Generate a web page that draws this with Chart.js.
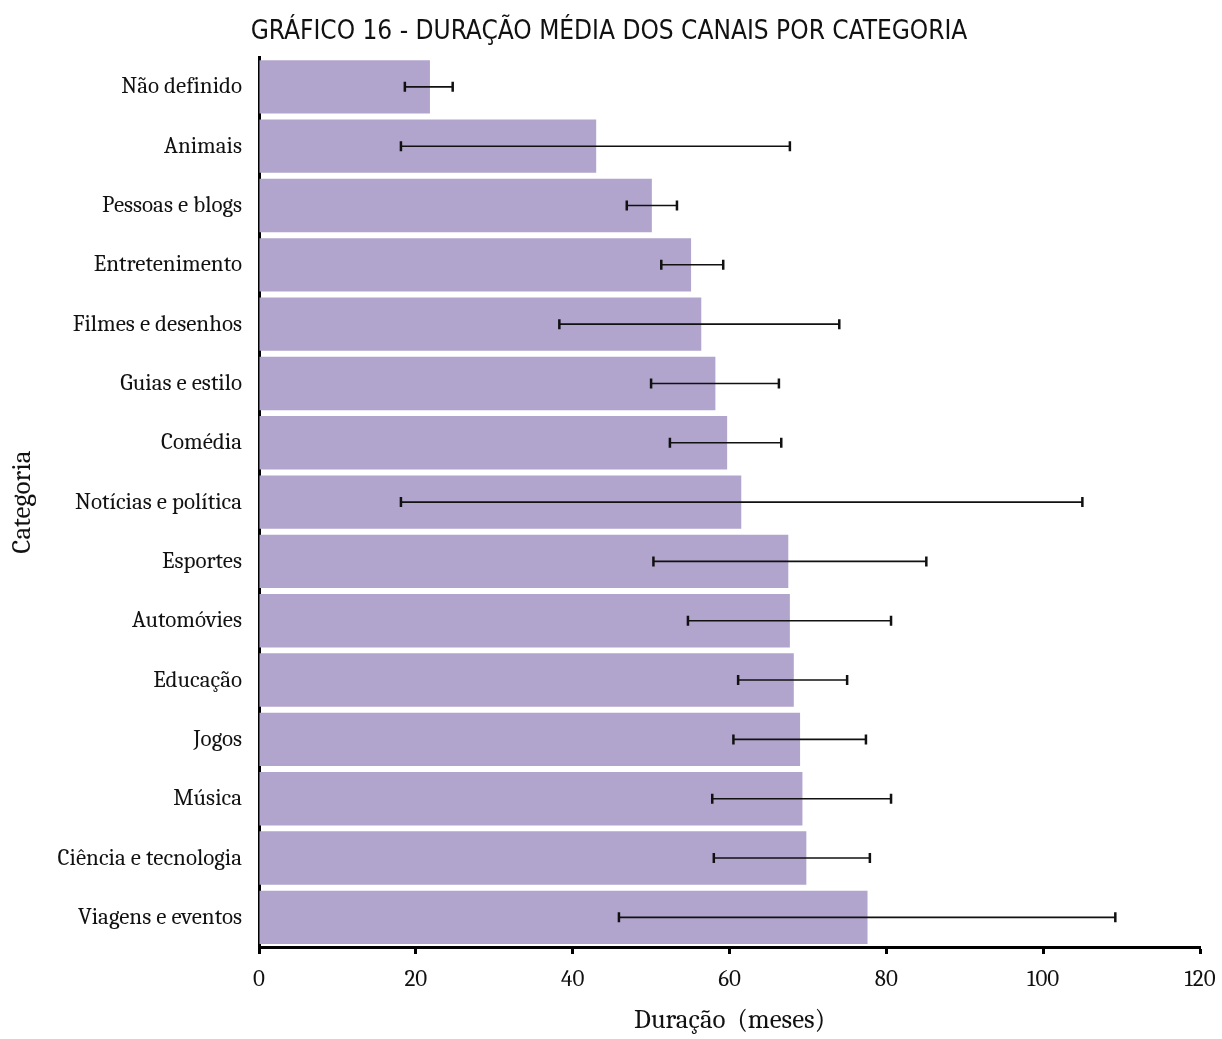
<!DOCTYPE html>
<html>
<head>
<meta charset="utf-8">
<title>Duração média dos canais por categoria</title>
<script src="https://cdn.jsdelivr.net/npm/chart.js@4.4.0/dist/chart.umd.min.js"></script>
<style>
  html, body { margin: 0; padding: 0; background: #fff; }
  canvas { display: block; }
</style>
</head>
<body>
<canvas id="durChart" width="1222" height="1039"></canvas>
<script>
// ---------------- Data ----------------
const categorias = [
  "Não definido", "Animais", "Pessoas e blogs", "Entretenimento",
  "Filmes e desenhos", "Guias e estilo", "Comédia", "Notícias e política",
  "Esportes", "Automóvies", "Educação", "Jogos", "Música",
  "Ciência e tecnologia", "Viagens e eventos"
];
const duracaoMedia = [21.8, 43.0, 50.1, 55.1, 56.4, 58.2, 59.7, 61.5, 67.5, 67.7, 68.2, 69.0, 69.3, 69.8, 77.6];
const erroMin = [18.6, 18.1, 46.9, 51.3, 38.3, 50.0, 52.4, 18.1, 50.3, 54.7, 61.1, 60.5, 57.8, 58.0, 45.9];
const erroMax = [24.7, 67.7, 53.3, 59.2, 74.0, 66.3, 66.6, 105.0, 85.1, 80.6, 75.0, 77.4, 80.6, 77.9, 109.2];
const xTicks = [0, 20, 40, 60, 80, 100, 120];

const serif = "Cambria, 'Liberation Serif', 'DejaVu Serif', serif";

// ---------------- Error bars plugin ----------------
const errorBars = {
  id: "errorBars",
  afterDatasetsDraw(chart) {
    const ctx = chart.ctx;
    const x = chart.scales.x;
    const y = chart.scales.y;
    ctx.save();
    ctx.strokeStyle = "#111";
    categorias.forEach((c, i) => {
      const yy = y.getPixelForValue(i);
      const x1 = x.getPixelForValue(erroMin[i]);
      const x2 = x.getPixelForValue(erroMax[i]);
      ctx.lineWidth = 1.6;
      ctx.beginPath();
      ctx.moveTo(x1, yy);
      ctx.lineTo(x2, yy);
      ctx.stroke();
      ctx.lineWidth = 2.5;
      ctx.beginPath();
      ctx.moveTo(x1, yy - 5);
      ctx.lineTo(x1, yy + 5);
      ctx.moveTo(x2, yy - 5);
      ctx.lineTo(x2, yy + 5);
      ctx.stroke();
    });
    ctx.restore();
  },
};

// ---------------- Chart ----------------
const ctx = document.getElementById("durChart").getContext("2d");
new Chart(ctx, {
  type: "bar",
  data: {
    labels: categorias,
    datasets: [
      {
        data: duracaoMedia,
        backgroundColor: "#b1a5cd",
        barPercentage: 0.9,
        categoryPercentage: 1.0,
      },
    ],
  },
  options: {
    indexAxis: "y",
    responsive: false,
    animation: false,
    layout: { padding: { top: 17, right: 4, bottom: 2, left: 0 } },
    plugins: {
      legend: { display: false },
      tooltip: { enabled: false },
      title: {
        display: true,
        text: "GRÁFICO 16 - DURAÇÃO MÉDIA DOS CANAIS POR CATEGORIA",
        color: "#111",
        font: { family: "'Liberation Sans Narrow', 'DejaVu Sans Condensed', 'Noto Sans', sans-serif", size: 26, weight: "normal" },
        padding: { top: 0, bottom: 9 },
      },
    },
    scales: {
      x: {
        min: 0,
        max: 120,
        afterBuildTicks(scale) {
          scale.ticks = xTicks.map((v) => ({ value: v }));
        },
        afterFit(scale) {
          scale.height = 90;
          scale.paddingRight = 22;
        },
        grid: {
          display: true,
          drawOnChartArea: false,
          drawTicks: true,
          tickLength: 7,
          tickWidth: 3,
          tickColor: "#000",
        },
        border: { display: true, color: "#000", width: 3 },
        ticks: {
          color: "#111",
          padding: 12,
          maxRotation: 0,
          font: { family: serif, size: 23 },
        },
        title: {
          display: true,
          text: "Duração  (meses)",
          color: "#111",
          font: { family: serif, size: 27 },
          padding: { top: 22, bottom: 0 },
        },
      },
      y: {
        afterFit(scale) {
          scale.width = 259;
        },
        grid: { display: false },
        border: { display: true, color: "#000", width: 3 },
        ticks: {
          color: "#111",
          padding: 9,
          font: { family: serif, size: 23 },
        },
        title: {
          display: true,
          text: "Categoria",
          color: "#111",
          font: { family: serif, size: 27 },
          padding: { top: 6, bottom: 0 },
        },
      },
    },
  },
  plugins: [errorBars],
});
</script>
</body>
</html>
